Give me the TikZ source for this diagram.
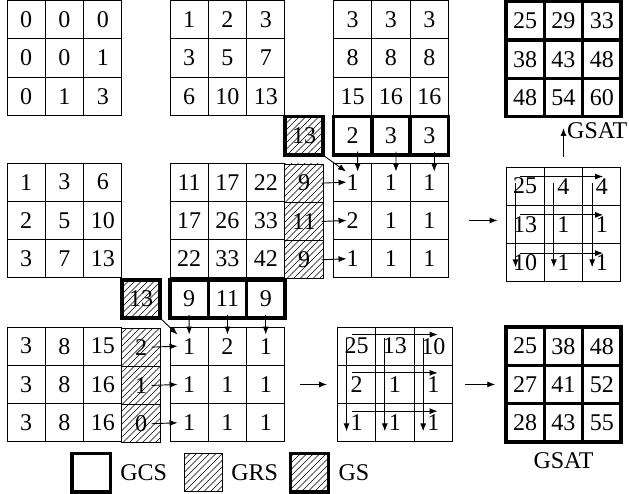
\documentclass[tikz,border=0pt]{standalone}
\usepackage{fontspec}
\setmainfont{Liberation Serif}
\usetikzlibrary{arrows.meta, positioning, patterns}
\pgfdeclarepatternformonly{hatch}{\pgfqpoint{-1pt}{-1pt}}{\pgfqpoint{7.5pt}{7.5pt}}{\pgfqpoint{6.5pt}{6.5pt}}{%
  \pgfsetlinewidth{0.6pt}%
  \pgfpathmoveto{\pgfqpoint{-0.1pt}{-0.1pt}}%
  \pgfpathlineto{\pgfqpoint{6.6pt}{6.6pt}}%
  \pgfusepath{stroke}}

\begin{document}
\begin{tikzpicture}[x=1pt,y=-1pt,
                    cell/.style={draw,line width=0.9pt,minimum size=38.3pt,inner sep=0pt,
                    font=\fontsize{24}{26}\selectfont},
                    gsat/.style={cell,line width=3.5pt},
                    grs/.style={cell,pattern=hatch},
                    gs/.style={gsat,pattern=hatch},
                    lbl/.style={inner sep=2pt,font=\fontsize{24}{26}\selectfont},
                    arr/.style={-{Latex[length=8pt,width=6pt]},line width=0.9pt}
]
\useasboundingbox (0,0) rectangle (629,494);
% matrices: name / left / top / style / values
\foreach \nm/\x/\y/\st/\vals in {
    ta/7/0.5/cell/{0,0,0,0,0,1,0,1,3},
    tb/170/0.5/cell/{1,2,3,3,5,7,6,10,13},
    tc/333.5/0.5/cell/{3,3,3,8,8,8,15,16,16},
    td/506/1.75/gsat/{25,29,33,38,43,48,48,54,60},
    ma/7/163/cell/{1,3,6,2,5,10,3,7,13},
    mb/170/163/cell/{11,17,22,17,26,33,22,33,42},
    mc/333.5/163/cell/{1,1,1,2,1,1,1,1,1},
    md/506/167/cell/{25,4,4,13,1,1,10,1,1},
    ba/7/327/cell/{3,8,15,3,8,16,3,8,16},
    bb/170/327/cell/{1,2,1,1,1,1,1,1,1},
    bc/337.5/327/cell/{25,13,10,2,1,1,1,1,1},
    bd/506/327/gsat/{25,38,48,27,41,52,28,43,55}}{
  \foreach \v [count=\i from 0] in \vals {
    \pgfmathsetmacro\cx{\x+(mod(\i,3)+0.5)*38.3}
    \pgfmathsetmacro\cy{\y+(int(\i/3)+0.5)*38.3}
    \pgfmathtruncatemacro\r{int(\i/3)+1}
    \pgfmathtruncatemacro\c{mod(\i,3)+1}
    \node[\st] (\nm-\r-\c) at (\cx,\cy) {\v};
  }
}
% hatched columns
\foreach \v [count=\r] in {9,11,9}
  \node[grs] (mh-\r) at (304.05,144.85+\r*38.3) {\v};
\foreach \v [count=\r] in {2,1,0}
  \node[grs] (bh-\r) at (141.05,308.85+\r*38.3) {\v};
% GS and GCS boxes
\node[gs] (tgs) at (304.05,135.65) {13};
\foreach \v [count=\c] in {2,3,3}
  \node[gsat] (tg-\c) at (314.35+\c*38.3,135.65) {\v};
\node[gs] (bgs) at (141.05,298.95) {13};
\foreach \v [count=\c] in {9,11,9}
  \node[gsat] (bg-\c) at (150.85+\c*38.3,298.95) {\v};

% update arrows
\draw[arr] (tgs.south east) -- ([shift={(13,9)}]mc-1-1.north west);
\foreach \c in {1,2,3}
  \draw[arr] ([shift={(5,-5)}]tg-\c.south) -- ([shift={(5,9)}]mc-1-\c.north);
\foreach \r in {1,2,3}
  \draw[arr] ([shift={(-2,0)}]mh-\r.east) -- ([shift={(13.5,0)}]mc-\r-1.west);
\draw[arr] (bgs.south east) -- ([shift={(8,8)}]bb-1-1.north west);
\foreach \c in {1,2,3}
  \draw[arr] ([shift={(0,-5)}]bg-\c.south) -- ([shift={(0,8)}]bb-1-\c.north);
\foreach \r in {1,2,3}
  \draw[arr] ([shift={(-9,0)}]bh-\r.east) -- ([shift={(8,0)}]bb-\r-1.west);

% row and column sums
\foreach \r in {1,2,3}
  \draw[arr] ([shift={(14,10)}]md-\r-1.north west) -- ([shift={(21,10)}]md-\r-3.north west);
\foreach \c in {1,2,3}
  \draw[arr] ([shift={(10,16)}]md-1-\c.north west) -- ([shift={(10,-15)}]md-3-\c.south west);
\foreach \r in {1,2,3}
  \draw[arr] ([shift={(15,8)}]bc-\r-1.north west) -- ([shift={(24,8)}]bc-\r-3.north west);
\foreach \c in {1,2,3}
  \draw[arr] ([shift={(9.5,11)}]bc-1-\c.north west) -- ([shift={(9.5,-11)}]bc-3-\c.south west);

\draw[arr] ([xshift=20pt]mc-2-3.east) -- ([xshift=-8pt]md-2-1.west |- mc-2-3.east);
\draw[arr] ([xshift=15pt]bb-2-3.east) -- ([xshift=-10pt]bc-2-1.west);
\draw[arr] ([xshift=12pt]bc-2-3.east) -- ([xshift=-9pt]bd-2-1.west);

% GSAT labels
\node[lbl,anchor=west] (tlab) at (565,131) {GSAT};
\draw[arr] ([shift={(0,-10)}]md-1-2.north) -- ([shift={(0,-3)}]md-1-2.north |- tlab.west);
\node[lbl] (blab) at (563.5,461) {GSAT};

% legend
\node[gsat] (lgcs) at (91.3,472.7) {};
\node[lbl,right=6pt of lgcs] (tgcs) {GCS};
\node[grs] (lgrs) at (203.5,472.7) {};
\node[lbl,right=6pt of lgrs] (tgrs) {GRS};
\node[gs] (lgs) at (309.5,472.7) {};
\node[lbl,right=6pt of lgs] (tgs2) {GS};
\end{tikzpicture}
\end{document}
